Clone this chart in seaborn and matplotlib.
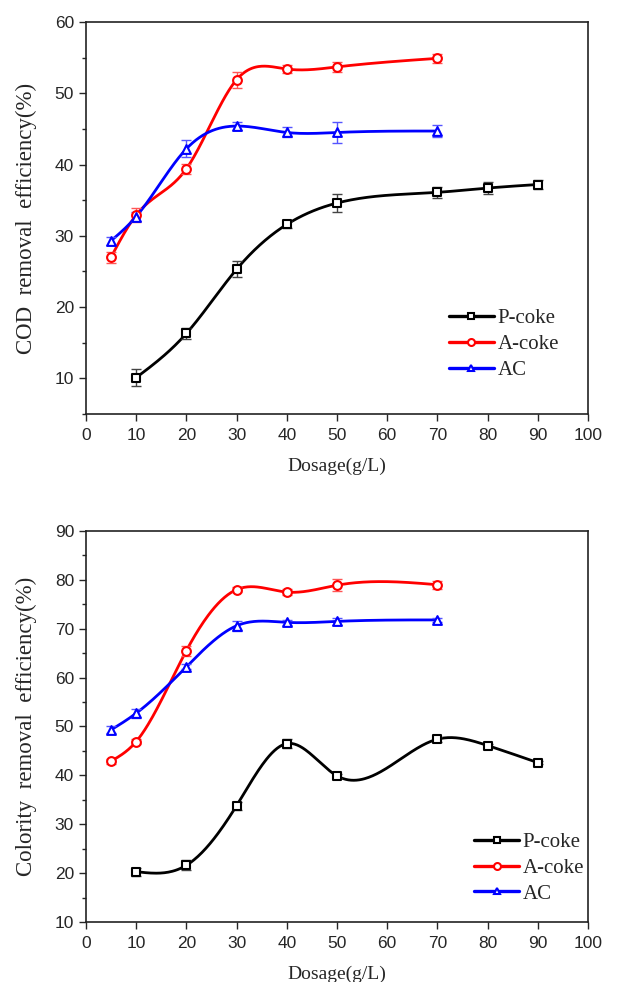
import numpy as np
import pandas as pd
import matplotlib
matplotlib.use("Agg")
import matplotlib.pyplot as plt
import seaborn as sns
from matplotlib.ticker import MultipleLocator

sns.set_style("ticks")

# ---- data ----
dose_p = [10, 20, 30, 40, 50, 70, 80, 90]
dose_a = [5, 10, 20, 30, 40, 50, 70]

cod_p = [10.1, 16.3, 25.3, 31.6, 34.6, 36.1, 36.7, 37.2]
cod_p_err = [1.2, 0.8, 1.1, 0.5, 1.2, 0.8, 0.9, 0.6]
cod_a = [27.0, 32.9, 39.4, 51.9, 53.4, 53.7, 54.9]
cod_a_err = [0.8, 1.0, 0.7, 1.1, 0.6, 0.7, 0.6]
cod_ac = [29.3, 32.7, 42.2, 45.4, 44.5, 44.5, 44.7]
cod_ac_err = [0.6, 0.6, 1.2, 0.6, 0.7, 1.5, 0.8]

col_p = [20.3, 21.6, 33.8, 46.5, 39.9, 47.4, 46.1, 42.6]
col_p_err = [0.8, 1.0, 0.8, 1.0, 0.4, 0.5, 0.4, 0.3]
col_a = [42.9, 46.9, 65.5, 78.0, 77.5, 78.9, 79.0]
col_a_err = [0.5, 0.5, 1.0, 0.5, 0.6, 1.2, 0.8]
col_ac = [49.3, 52.7, 62.2, 70.6, 71.3, 71.5, 71.8]
col_ac_err = [0.7, 0.9, 0.5, 1.0, 0.5, 0.7, 0.4]

labels = ["P-coke", "A-coke", "AC"]
colors = ["#000000", "#ff0000", "#0000ff"]
err_colors = ["#444444", "#ff5555", "#5555ff"]
markers = ["s", "o", "^"]


def natural_spline(x, y, n=300):
    x = np.asarray(x, float)
    y = np.asarray(y, float)
    k = len(x)
    h = np.diff(x)
    A = np.zeros((k, k))
    b = np.zeros(k)
    A[0, 0] = 1
    A[-1, -1] = 1
    for i in range(1, k - 1):
        A[i, i - 1] = h[i - 1]
        A[i, i] = 2 * (h[i - 1] + h[i])
        A[i, i + 1] = h[i]
        b[i] = 6 * ((y[i + 1] - y[i]) / h[i] - (y[i] - y[i - 1]) / h[i - 1])
    M = np.linalg.solve(A, b)
    xs = np.linspace(x[0], x[-1], n)
    idx = np.clip(np.searchsorted(x, xs) - 1, 0, k - 2)
    x0, x1 = x[idx], x[idx + 1]
    hh = x1 - x0
    ys = (M[idx] * (x1 - xs) ** 3 / (6 * hh) + M[idx + 1] * (xs - x0) ** 3 / (6 * hh)
          + (y[idx] / hh - M[idx] * hh / 6) * (x1 - xs)
          + (y[idx + 1] / hh - M[idx + 1] * hh / 6) * (xs - x0))
    return xs, ys


fig = plt.figure(figsize=(6.27, 9.82), dpi=100)
ax1 = fig.add_axes([0.137, 0.5784, 0.801, 0.3992])
ax2 = fig.add_axes([0.137, 0.0611, 0.801, 0.3982])

panels = [
    (ax1, [(dose_p, cod_p, cod_p_err), (dose_a, cod_a, cod_a_err), (dose_a, cod_ac, cod_ac_err)],
     (5, 60), 10, "COD  removal  efficiency(%)", (0.722, 0.178)),
    (ax2, [(dose_p, col_p, col_p_err), (dose_a, col_a, col_a_err), (dose_a, col_ac, col_ac_err)],
     (10, 90), 10, "Colority  removal  efficiency(%)", (0.772, 0.138)),
]

for ax, series, ylim, ystep, ylabel, legpos in panels:
    for (xv, yv, ev), lab, c, ec, m in zip(series, labels, colors, err_colors, markers):
        xs, ys = natural_spline(xv, yv)
        sns.lineplot(x=xs, y=ys, ax=ax, color=c, lw=2.0, zorder=2)
        ax.errorbar(xv, yv, yerr=ev, fmt="none", ecolor=ec, elinewidth=1.0,
                    capsize=3.5, capthick=1.0, zorder=3)
        df = pd.DataFrame({"x": xv, "y": yv})
        sns.scatterplot(data=df, x="x", y="y", ax=ax, marker=m, s=40,
                        facecolor="white", edgecolor=c, linewidth=1.5, zorder=4)
        ax.plot([], [], color=c, lw=2.4, marker=m, markersize=5,
                markerfacecolor="white", markeredgecolor=c, markeredgewidth=1.5,
                label=lab)
    ax.set_xlim(0, 100)
    ax.set_ylim(*ylim)
    ax.xaxis.set_major_locator(MultipleLocator(10))
    ax.yaxis.set_major_locator(MultipleLocator(ystep))
    ax.yaxis.set_minor_locator(MultipleLocator(5))
    ax.tick_params(axis="both", which="major", direction="out", length=5, width=1,
                   labelsize=12.5, top=False, right=False)
    ax.tick_params(axis="x", which="major", pad=5)
    ax.tick_params(axis="y", which="minor", direction="out", length=3, width=1)
    for lbl in ax.get_xticklabels() + ax.get_yticklabels():
        lbl.set_family("Liberation Sans")
    for sp in ax.spines.values():
        sp.set_visible(True)
        sp.set_linewidth(1.2)
        sp.set_color("#222222")
    ax.set_xlabel("Dosage(g/L)", family="Liberation Serif", fontsize=14, labelpad=11)
    ax.set_ylabel(ylabel, family="Liberation Serif", fontsize=16.5, labelpad=13)
    h, l = ax.get_legend_handles_labels()
    ax.legend(h[-3:], l[-3:], loc="center left", bbox_to_anchor=legpos, frameon=False,
              prop={"family": "Liberation Serif", "size": 15}, handlelength=2.2,
              handletextpad=0.15, labelspacing=0.3, borderaxespad=0, borderpad=0)

fig.savefig("out.png", dpi=100)
